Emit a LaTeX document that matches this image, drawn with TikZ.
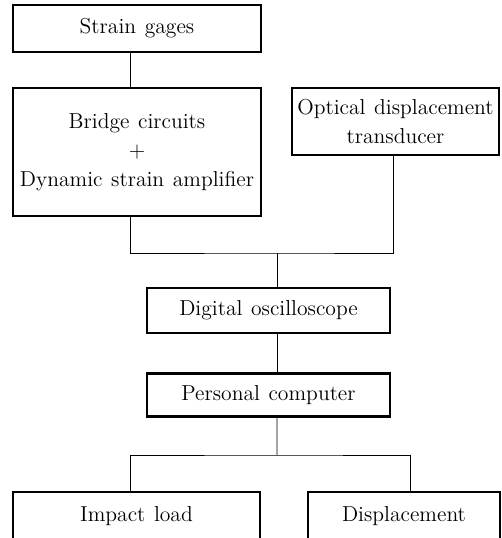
\documentclass[tikz,border=0pt]{standalone}
\usepackage{tikz}
\usetikzlibrary{positioning,calc}
\newcommand{\blkfont}{\fontsize{12.3}{16.5}\selectfont\spaceskip=0.4em plus 0.1em\relax}
\tikzset{
  blk/.style  = {draw, line width=1.3pt, align=center,
                 font=\blkfont, inner sep=2pt},
  wire/.style = {-, line width=0.55pt},
}

\begin{document}
\begin{tikzpicture}[x=0.02cm,y=-0.02cm]
        \useasboundingbox (0,0) rectangle (501,538);
        % -- Sensors ---------------------------------------------------
        \node[blk, minimum width=4.96cm, minimum height=0.94cm]
            (gages) at (137,28.5) {Strain gages};
        \node[blk, minimum width=4.96cm, minimum height=2.56cm]
            (bridge) at (137,152) {Bridge circuits\\+\\Dynamic strain amplifier};
        \node[blk, minimum width=4.14cm, minimum height=1.34cm]
            (optical) at (395.5,121.5) {Optical displacement\\transducer};

        % -- Recording -------------------------------------------------
        \node[blk, minimum width=4.86cm, minimum height=0.9cm]
            (scope) at (268.5,310.5) {Digital oscilloscope};
        \node[blk, minimum width=4.86cm, minimum height=0.86cm]
            (pc) at (268.5,395) {Personal computer};

        % -- Outputs ---------------------------------------------------
        \node[blk, minimum width=4.94cm, minimum height=0.96cm]
            (load) at (136.5,516) {Impact load};
        \node[blk, minimum width=3.84cm, minimum height=0.96cm]
            (disp) at (404,516) {Displacement};

        % -- Connections -----------------------------------------------
        \coordinate (join) at (277,253);
        \coordinate (split) at (277,455);
        \draw[wire] ([xshift=-0.14cm]gages.south) -- ([xshift=-0.14cm]bridge.north);
        \draw[wire] ([xshift=-0.14cm]bridge.south) |- (join) -| ([xshift=-0.05cm]optical.south);
        \draw[wire] (join) -- (join |- scope.north);
        \draw[wire] ([xshift=0.17cm]scope.south) -- ([xshift=0.17cm]pc.north);
        \draw[wire] ([xshift=0.17cm]pc.south) -- (split);
        \draw[wire] ([xshift=-0.13cm]load.north) |- (split) -| ([xshift=0.12cm]disp.north);
    \end{tikzpicture}
\end{document}
